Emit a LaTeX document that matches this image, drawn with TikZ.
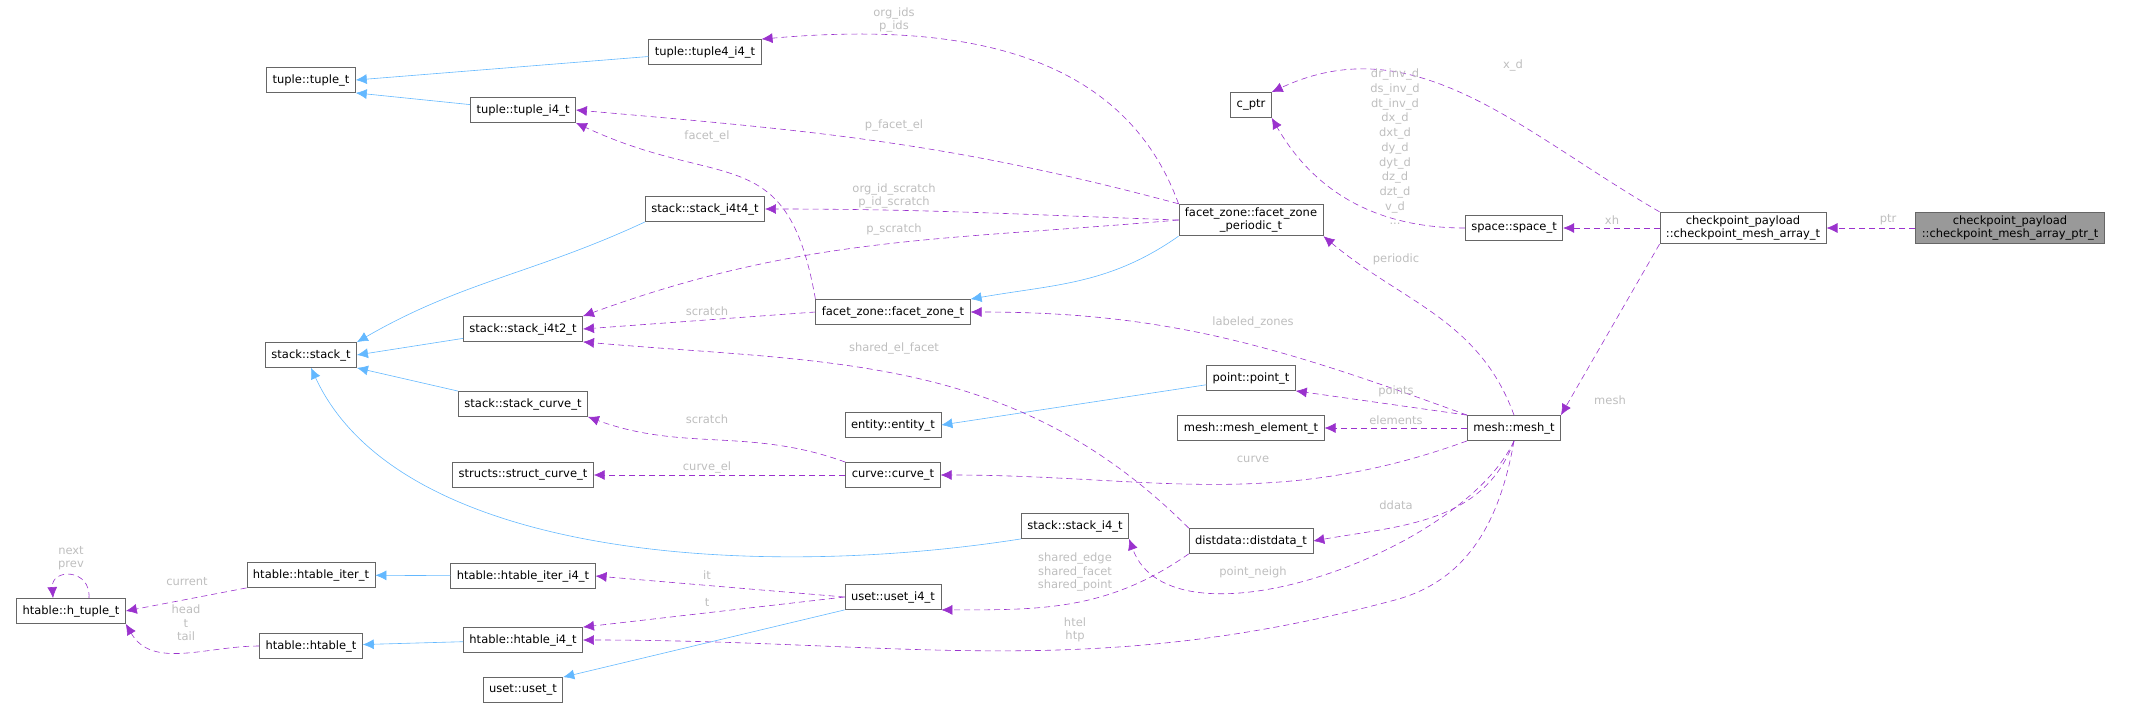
\documentclass[tikz,border=0pt]{standalone}
\usepackage{fontspec}
\setmainfont{DejaVu Sans}
\usetikzlibrary{arrows.meta}
\definecolor{node_gray}{RGB}{102,102,102}
\definecolor{node_dark}{RGB}{153,153,153}
\definecolor{edge_blue}{RGB}{99,184,255}
\definecolor{edge_purple}{RGB}{154,50,205}
\definecolor{label_gray}{RGB}{190,190,190}

\begin{document}
\begin{tikzpicture}[x=1pt,y=-1pt,semithick,font=\fontsize{11.5}{13.5}\selectfont]
    \tikzstyle{cls}=[draw=node_gray, thick, rectangle, minimum height=25pt, inner xsep=6pt, fill=white, text=black, align=center]
    \tikzstyle{clsmain}=[style=cls, fill=node_dark]
    \tikzstyle{inherit}=[draw=edge_blue, -{Latex[length=11pt,width=10pt]}]
    \tikzstyle{member}=[draw=edge_purple, dashed, dash pattern=on 6pt off 4pt, -{Latex[length=11pt,width=10pt]}]
    \tikzstyle{lbl}=[text=label_gray, align=center, inner sep=0pt]

    \useasboundingbox (0,0) rectangle (2148,707);

    \node[cls] (tuple) at (311,80)  {tuple::tuple\_t};
    \node[cls] (tuplefour) at (705,52)  {tuple::tuple4\_i4\_t};
    \node[cls] (tuplei) at (523,110) {tuple::tuple\_i4\_t};
    \node[cls] (cptr) at (1251,105) {c\_ptr};
    \node[cls] (stackfour) at (705,209) {stack::stack\_i4t4\_t};
    \node[cls] (periodic) at (1251,220) {facet\_zone::facet\_zone\\\_periodic\_t};
    \node[cls] (space) at (1514,228) {space::space\_t};
    \node[cls] (array) at (1743,228) {checkpoint\_payload\\::checkpoint\_mesh\_array\_t};
    \node[clsmain] (arrayptr) at (2010,228) {checkpoint\_payload\\::checkpoint\_mesh\_array\_ptr\_t};
    \node[cls] (stack) at (311,355) {stack::stack\_t};
    \node[cls] (stacktwo) at (523,329) {stack::stack\_i4t2\_t};
    \node[cls] (zone) at (893,312) {facet\_zone::facet\_zone\_t};
    \node[cls] (stackcurve) at (523,404) {stack::stack\_curve\_t};
    \node[cls] (point) at (1251,378) {point::point\_t};
    \node[cls] (entity) at (893,425) {entity::entity\_t};
    \node[cls] (element) at (1251,428) {mesh::mesh\_element\_t};
    \node[cls] (mesh) at (1514,428) {mesh::mesh\_t};
    \node[cls] (structcurve) at (523,475) {structs::struct\_curve\_t};
    \node[cls] (curve) at (893,475) {curve::curve\_t};
    \node[cls] (stacki) at (1075,526) {stack::stack\_i4\_t};
    \node[cls] (distdata) at (1251,541) {distdata::distdata\_t};
    \node[cls] (iter) at (311,575) {htable::htable\_iter\_t};
    \node[cls] (iteri) at (523,576) {htable::htable\_iter\_i4\_t};
    \node[cls] (htuple) at (71,611) {htable::h\_tuple\_t};
    \node[cls] (usetfour) at (893,597) {uset::uset\_i4\_t};
    \node[cls] (htable) at (311,646) {htable::htable\_t};
    \node[cls] (htablei) at (523,640) {htable::htable\_i4\_t};
    \node[cls] (uset) at (523,690) {uset::uset\_t};
    \coordinate (htbend) at (1395,600);

    % inheritance
    \path
     (tuplefour) edge[inherit] (tuple.east)
     (tuplei) edge[inherit] (tuple.south east)
     (stackfour.south west) edge[inherit, out=-155, in=30] (stack.north east)
     (stacktwo) edge[inherit] (stack.east)
     (stackcurve.north west) edge[inherit] (stack.south east)
     (periodic.south west) edge[inherit, out=-145, in=10] (zone.north east)
     (point) edge[inherit] (entity.east)
     (iteri) edge[inherit] (iter)
     (htablei) edge[inherit] (htable)
     (usetfour.south west) edge[inherit] (uset.north east);
    \draw[inherit] (stacki.south west) .. controls (760,580) and (400,560) .. (stack.south);

    % members
    \path
     (periodic.north west) edge[member, out=110, in=5] (tuplefour.north east)
     (periodic.north west) edge[member, out=165, in=-5] (tuplei.east)
     (zone.north west) edge[member, out=100, in=-25, looseness=1.4] (tuplei.south east)
     (periodic.west) edge[member, out=178, in=0] (stackfour.east)
     (periodic.west) edge[member, out=185, in=20] (stacktwo.north east)
     (zone.west) edge[member] (stacktwo.east)
     (distdata.north west) edge[member, out=135, in=-5] (stacktwo.south east)
     (array.north west) edge[member, out=150, in=25] (cptr.north east)
     (space.west) edge[member, out=180, in=-60] (cptr.south east)
     (array) edge[member] (space)
     (arrayptr) edge[member] (array)
     (array.south west) edge[member] (mesh.north east)
     (mesh.north) edge[member, out=110, in=-40] (periodic.south east)
     (mesh.north west) edge[member, out=160, in=0] (zone.east)
     (mesh.north west) edge[member] (point.south east)
     (mesh) edge[member] (element)
     (mesh.south west) edge[member, out=-160, in=0] (curve.east)
     (mesh.south) edge[member, out=-110, in=10] (distdata.east)
     (mesh.south) edge[member, out=-115, in=-70, looseness=0.8] (stacki.south east)
     (distdata.south west) edge[member, out=-145, in=0] (usetfour.south east)
     (curve.north west) edge[member, out=160, in=-20] (stackcurve.south east)
     (curve) edge[member] (structcurve)
     (usetfour.west) edge[member] (iteri.east)
     (usetfour.west) edge[member] (htablei.north east)
     (iter.south west) edge[member] (htuple.east)
     (htable.west) edge[member, out=180, in=-60] (htuple.south east);
    \draw[member] (mesh.south) to[out=-100, in=15] (htbend) to[out=195, in=0] (htablei.east);
    \draw[member] ([xshift=18pt]htuple.north) .. controls ([xshift=20pt,yshift=30pt]htuple.north) and ([xshift=-20pt,yshift=30pt]htuple.north) .. ([xshift=-18pt]htuple.north);

    % labels
    \node[lbl] (l_pids) at (894,20) {org\_ids\\p\_ids};
    \node[lbl] (l_xd) at (1513,65) {x\_d};
    \node[lbl, font=\fontsize{11.5}{14.7}\selectfont] (l_cptr) at (1395,147) {dr\_inv\_d\\ds\_inv\_d\\dt\_inv\_d\\dx\_d\\dxt\_d\\dy\_d\\dyt\_d\\dz\_d\\dzt\_d\\v\_d\\...};
    \node[lbl] (l_pfacet) at (894,125) {p\_facet\_el};
    \node[lbl] (l_facet) at (707,136) {facet\_el};
    \node[lbl] (l_orgscr) at (894,196) {org\_id\_scratch\\p\_id\_scratch};
    \node[lbl] (l_pscr) at (894,229) {p\_scratch};
    \node[lbl] (l_scr) at (707,311) {scratch};
    \node[lbl] (l_zones) at (1253,322) {labeled\_zones};
    \node[lbl] (l_elfacet) at (894,348) {shared\_el\_facet};
    \node[lbl] (l_periodic) at (1396,259) {periodic};
    \node[lbl] (l_xh) at (1612,220) {xh};
    \node[lbl] (l_ptr) at (1888,220) {ptr};
    \node[lbl] (l_mesh) at (1610,400) {mesh};
    \node[lbl] (l_points) at (1396,391) {points};
    \node[lbl] (l_elements) at (1396,420) {elements};
    \node[lbl] (l_curve) at (1253,459) {curve};
    \node[lbl] (l_ddata) at (1396,505) {ddata};
    \node[lbl] (l_neigh) at (1253,572) {point\_neigh};
    \node[lbl] (l_shared) at (1075,572) {shared\_edge\\shared\_facet\\shared\_point};
    \node[lbl] (l_ht) at (1075,630) {htel\\htp};
    \node[lbl] (l_scr2) at (707,419) {scratch};
    \node[lbl] (l_curveel) at (707,467) {curve\_el};
    \node[lbl] (l_it) at (707,575) {it};
    \node[lbl] (l_t) at (707,602) {t};
    \node[lbl] (l_current) at (187,582) {current};
    \node[lbl] (l_head) at (186,623) {head\\t\\tail};
    \node[lbl] (l_next) at (71,558) {next\\prev};
\end{tikzpicture}
\end{document}
